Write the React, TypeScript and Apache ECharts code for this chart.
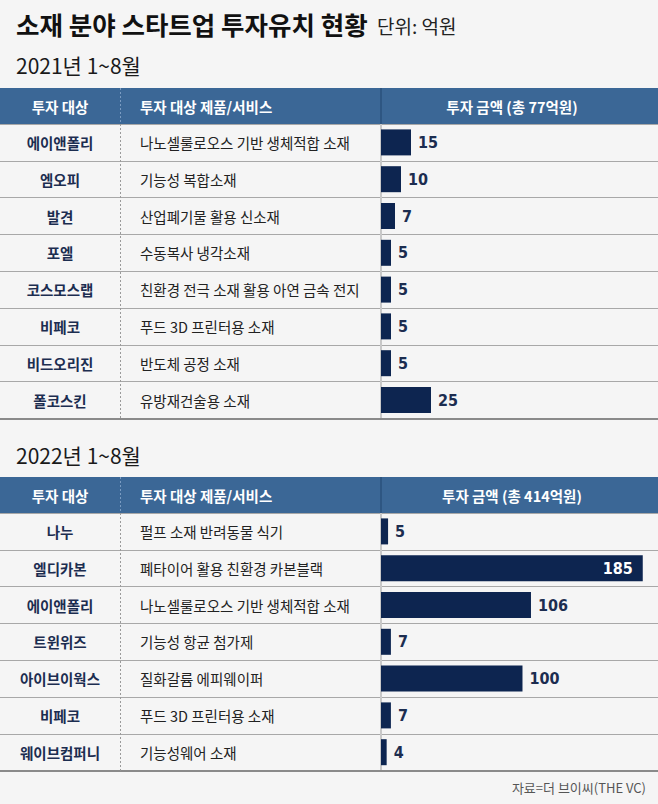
import React, { useEffect, useRef } from "react";
import * as echarts from "echarts";

const names2021 = ["에이앤폴리", "엠오피", "발견", "포엘", "코스모스랩", "비페코", "비드오리진", "폴코스킨"];
const products2021 = [
  "나노셀룰로오스 기반 생체적합 소재",
  "기능성 복합소재",
  "산업폐기물 활용 신소재",
  "수동복사 냉각소재",
  "친환경 전극 소재 활용 아연 금속 전지",
  "푸드 3D 프린터용 소재",
  "반도체 공정 소재",
  "유방재건술용 소재",
];
const values2021 = [15, 10, 7, 5, 5, 5, 5, 25];

const names2022 = ["나누", "엘디카본", "에이앤폴리", "트윈위즈", "아이브이웍스", "비페코", "웨이브컴퍼니"];
const products2022 = [
  "펄프 소재 반려동물 식기",
  "폐타이어 활용 친환경 카본블랙",
  "나노셀룰로오스 기반 생체적합 소재",
  "기능성 항균 첨가제",
  "질화갈륨 에피웨이퍼",
  "푸드 3D 프린터용 소재",
  "기능성웨어 소재",
];
const values2022 = [5, 185, 106, 7, 100, 7, 4];

const headerLabels = ["투자 대상", "투자 대상 제품/서비스"];
const titleText = "소재 분야 스타트업 투자유치 현황";
const unitText = "단위: 억원";
const periodLabels = ["2021년 1~8월", "2022년 1~8월"];
const sourceText = "자료=더 브이씨(THE VC)";

const W = 658;
const H = 804;
const FONT = '"Noto Sans CJK KR", "Noto Sans", sans-serif';
const NUM_FONT = '"DejaVu Sans Condensed", "Liberation Sans Narrow", Roboto, sans-serif';
const BG = "#f5f5f5";
const HEADER = "#3b6796";
const BAR = "#0d2550";
const NAVY = "#1c2d50";
const ROW_H = 36.8;
const COL1_C = 60;
const COL2_L = 140;
const BAR_L = 381;
const BAR_W = 266;

const tables = [
  { names: names2021, products: products2021, values: values2021, headerTop: 88, max: 133, period: periodLabels[0], periodY: 65 },
  { names: names2022, products: products2022, values: values2022, headerTop: 477, max: 188, period: periodLabels[1], periodY: 455 },
];
const HEADER_H = 36;

function buildOption() {
  const grid: any[] = [];
  const xAxis: any[] = [];
  const yAxis: any[] = [];
  const series: any[] = [];
  const graphic: any[] = [];

  const text = (x: number, y: number, t: string, o: any) => ({
    type: "text",
    x,
    y,
    z: 30,
    style: {
      text: t,
      fill: o.fill || "#222",
      fontSize: o.size || 14,
      fontWeight: o.weight || "normal",
      fontFamily: o.family || FONT,
      align: o.align || "left",
      verticalAlign: "middle",
    },
  });

  graphic.push(text(16, 23, titleText, { size: 25.5, weight: "bold", fill: "#111" }));
  graphic.push(text(377, 25, unitText, { size: 19, fill: "#222" }));

  tables.forEach((t) => {
    const rowsTop = t.headerTop + HEADER_H;
    const rowsH = ROW_H * t.names.length;
    const total = t.values.reduce((a, b) => a + b, 0);
    const gBar = grid.length;
    grid.push({ left: BAR_L, top: rowsTop, width: BAR_W, height: rowsH, containLabel: false, outerBoundsMode: "none" });
    const gFrame = grid.length;
    grid.push({ left: 0, top: rowsTop, width: W, height: rowsH, containLabel: false, outerBoundsMode: "none" });

    const xBar = xAxis.length;
    xAxis.push({ type: "value", gridIndex: gBar, min: 0, max: t.max, show: false });
    xAxis.push({
      type: "value",
      gridIndex: gFrame,
      min: 0,
      max: 1,
      axisLine: { show: true, lineStyle: { color: "#8a8a8a", width: 2 } },
      axisTick: { show: false },
      axisLabel: { show: false },
      splitLine: { show: false },
    });

    const yNames = yAxis.length;
    yAxis.push({
      type: "category",
      gridIndex: gBar,
      position: "left",
      inverse: true,
      data: t.names,
      axisLine: { show: true, lineStyle: { color: "#c8c8c8", width: 2 } },
      axisTick: { show: false },
      splitLine: { show: false },
      axisLabel: {
        interval: 0,
        margin: BAR_L - COL1_C,
        align: "center",
        color: NAVY,
        fontWeight: "bold",
        fontSize: 14.5,
        fontFamily: FONT,
      },
    });
    yAxis.push({
      type: "category",
      gridIndex: gBar,
      position: "left",
      inverse: true,
      data: t.products,
      axisLine: { show: false },
      axisTick: { show: false },
      splitLine: { show: false },
      axisLabel: {
        interval: 0,
        margin: BAR_L - COL2_L,
        align: "left",
        color: "#222",
        fontSize: 14.5,
        fontFamily: FONT,
      },
    });
    yAxis.push({
      type: "category",
      gridIndex: gFrame,
      position: "left",
      inverse: true,
      data: t.names,
      axisLine: { show: false },
      axisTick: { show: false },
      axisLabel: { show: false },
      splitLine: { show: true, interval: 0, lineStyle: { color: "#a8a8a8", width: 1 } },
    });

    series.push({
      type: "bar",
      xAxisIndex: xBar,
      yAxisIndex: yNames,
      barWidth: 26,
      itemStyle: { color: BAR },
      label: {
        show: true,
        position: "right",
        distance: 7,
        color: NAVY,
        fontWeight: "bold",
        fontSize: 16,
        fontFamily: NUM_FONT,
        formatter: "{c}",
      },
      data: t.values.map((v) =>
        v > t.max * 0.8 ? { value: v, label: { position: "insideRight", color: "#fff", distance: 10 } } : v
      ),
    });

    graphic.push(text(16, t.periodY, t.period, { size: 21, fill: "#1a1a1a" }));
    graphic.push({
      type: "rect",
      z: 20,
      shape: { x: 0, y: t.headerTop, width: W, height: HEADER_H },
      style: { fill: HEADER },
    });
    const hy = t.headerTop + HEADER_H / 2;
    graphic.push(text(COL1_C, hy, headerLabels[0], { fill: "#fff", weight: "bold", align: "center", size: 14.5 }));
    graphic.push(text(COL2_L, hy, headerLabels[1], { fill: "#fff", weight: "bold", size: 14.5 }));
    graphic.push(text(512, hy, `투자 금액 (총 ${total}억원)`, { fill: "#fff", weight: "bold", align: "center", size: 14.5 }));
    graphic.push({
      type: "line",
      z: 25,
      shape: { x1: 120.5, y1: t.headerTop, x2: 120.5, y2: rowsTop },
      style: { stroke: "#7b9cc2", lineWidth: 1, lineDash: [2, 2] },
    });
    graphic.push({
      type: "line",
      z: 25,
      shape: { x1: BAR_L, y1: t.headerTop, x2: BAR_L, y2: rowsTop },
      style: { stroke: "#2e5682", lineWidth: 2 },
    });
    graphic.push({
      type: "line",
      z: 5,
      shape: { x1: 120.5, y1: rowsTop, x2: 120.5, y2: rowsTop + rowsH },
      style: { stroke: "#9a9a9a", lineWidth: 1, lineDash: [2, 2] },
    });
  });

  graphic.push(text(646, 787, sourceText, { size: 13, fill: "#555", align: "right" }));

  return {
    animation: false,
    backgroundColor: BG,
    grid,
    xAxis,
    yAxis,
    series,
    graphic,
  };
}

export default function App() {
  const ref = useRef<HTMLDivElement>(null);
  useEffect(() => {
    document.body.style.margin = "0";
    if (!ref.current) return;
    const chart = echarts.init(ref.current, null, { renderer: "svg" });
    chart.setOption(buildOption() as any);
    return () => chart.dispose();
  }, []);
  return <div ref={ref} style={{ width: W, height: H, position: "absolute", left: 0, top: 0, background: BG }} />;
}
